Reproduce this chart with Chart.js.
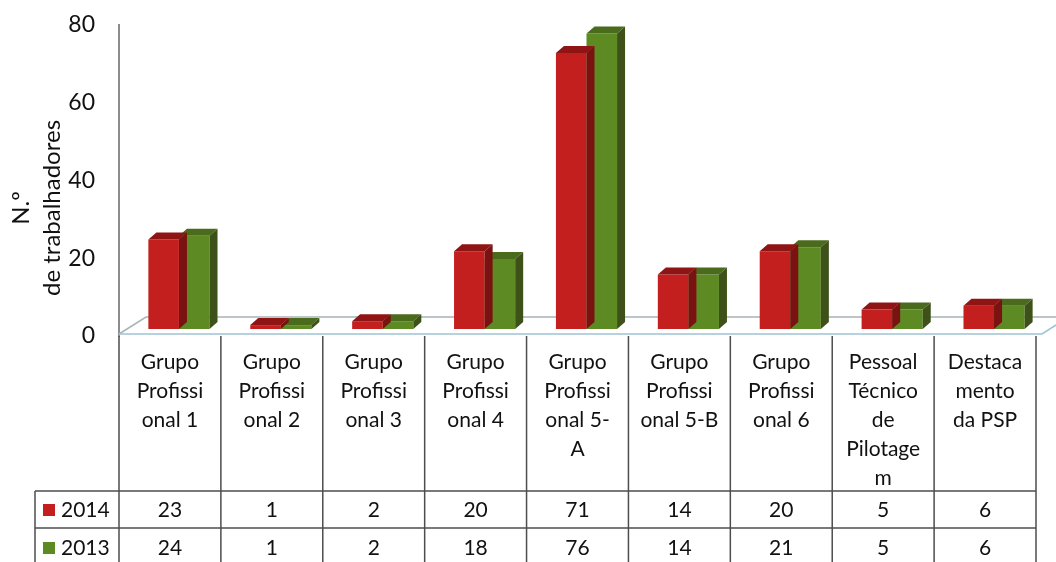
<!DOCTYPE html>
<html>
<head>
<meta charset="utf-8">
<script src="https://cdn.jsdelivr.net/npm/chart.js@4/dist/chart.umd.min.js"></script>
<style>
  html, body { margin: 0; padding: 0; background: #ffffff; }
  #wrap { width: 1056px; height: 562px; position: relative; }
</style>
</head>
<body>
<div id="wrap"><canvas id="c" width="1056" height="562"></canvas></div>
<script>
// ---- data ----
const categories = [
  ["Grupo", "Profissi", "onal 1"],
  ["Grupo", "Profissi", "onal 2"],
  ["Grupo", "Profissi", "onal 3"],
  ["Grupo", "Profissi", "onal 4"],
  ["Grupo", "Profissi", "onal 5-", "A"],
  ["Grupo", "Profissi", "onal 5-B"],
  ["Grupo", "Profissi", "onal 6"],
  ["Pessoal", "Técnico", "de", "Pilotage", "m"],
  ["Destaca", "mento", "da PSP"]
];
const seriesNames = ["2014", "2013"];
const values2014 = [23, 1, 2, 20, 71, 14, 20, 5, 6];
const values2013 = [24, 1, 2, 18, 76, 14, 21, 5, 6];
const yTicks = [0, 20, 40, 60, 80];
const yTitle = ["N.º", "de trabalhadores"];

// ---- styles ----
const FONT = "Lato, 'Noto Sans', sans-serif";
const TEXT = "#111111";
const faceColors = [
  { front: "#C21F1E", top: "#8F1414", side: "#7A1212" },
  { front: "#5E8A24", top: "#4B6B1C", side: "#3D5118" }
];
const DX = 8, DY = 7;        // depth of the 3D faces
const SHIFT_X = 9, SHIFT_Y = -7;

const bar3d = {
  id: "bar3d",
  beforeDatasetsDraw(chart) {
    const ctx = chart.ctx, a = chart.chartArea;
    // floor
    ctx.save();
    ctx.strokeStyle = "#a9b3b8";
    ctx.lineWidth = 1.5;
    ctx.beginPath();
    ctx.moveTo(a.left, a.bottom - 2);
    ctx.lineTo(a.left + 27, a.bottom - 19);
    ctx.lineTo(chart.width, a.bottom - 19);
    ctx.stroke();
    ctx.strokeStyle = "#9fc3d6";
    ctx.beginPath();
    ctx.moveTo(a.left, a.bottom - 2);
    ctx.lineTo(a.right + 6, a.bottom - 2);
    ctx.lineTo(a.right + 20, a.bottom - 11);
    ctx.stroke();
    ctx.restore();
    ctx.save();
    ctx.translate(SHIFT_X, SHIFT_Y);
  },
  afterDatasetDraw(chart, args) {
    const ctx = chart.ctx;
    const col = faceColors[args.index];
    args.meta.data.forEach(el => {
      const l = el.x - el.width / 2, r = el.x + el.width / 2, t = el.y, b = el.base;
      ctx.fillStyle = col.top;
      ctx.beginPath();
      ctx.moveTo(l, t); ctx.lineTo(r, t); ctx.lineTo(r + DX, t - DY); ctx.lineTo(l + DX, t - DY);
      ctx.closePath(); ctx.fill();
      ctx.fillStyle = col.side;
      ctx.beginPath();
      ctx.moveTo(r, t); ctx.lineTo(r + DX, t - DY); ctx.lineTo(r + DX, b - DY); ctx.lineTo(r, b);
      ctx.closePath(); ctx.fill();
    });
  },
  afterDatasetsDraw(chart) {
    chart.ctx.restore();
  }
};

const dataTable = {
  id: "dataTable",
  afterDraw(chart) {
    const ctx = chart.ctx, a = chart.chartArea, xs = chart.scales.x;
    const n = categories.length;
    const bounds = [a.left];
    for (let i = 1; i < n; i++) bounds.push((xs.getPixelForTick(i - 1) + xs.getPixelForTick(i)) / 2);
    bounds.push(a.right);
    const top = a.bottom, row1 = 491, row2 = 528, bottom = chart.height;
    const legLeft = 35;
    ctx.save();
    ctx.strokeStyle = "#4d4d4d";
    ctx.lineWidth = 1.5;
    ctx.beginPath();
    bounds.forEach(x => { ctx.moveTo(x, top); ctx.lineTo(x, bottom); });
    ctx.moveTo(legLeft, row1); ctx.lineTo(legLeft, bottom);
    ctx.moveTo(legLeft, row1); ctx.lineTo(a.right, row1);
    ctx.moveTo(legLeft, row2); ctx.lineTo(a.right, row2);
    ctx.stroke();

    ctx.fillStyle = TEXT;
    ctx.font = "21px " + FONT;
    ctx.textAlign = "center";
    ctx.textBaseline = "middle";
    categories.forEach((lines, i) => {
      const cx = xs.getPixelForTick(i);
      lines.forEach((s, k) => ctx.fillText(s, cx, 362 + k * 29));
      ctx.fillText(String(values2014[i]), cx, 510);
      ctx.fillText(String(values2013[i]), cx, 548);
    });
    // legend keys
    const rowsY = [510, 548];
    seriesNames.forEach((name, k) => {
      ctx.fillStyle = faceColors[k].front;
      ctx.fillRect(43, rowsY[k] - 6, 12, 12);
      ctx.fillStyle = TEXT;
      ctx.textAlign = "left";
      ctx.fillText(name, 61, rowsY[k]);
    });

    // y axis title
    ctx.save();
    ctx.font = "24px " + FONT;
    ctx.textAlign = "center";
    ctx.translate(0, 208);
    ctx.rotate(-Math.PI / 2);
    ctx.fillText(yTitle[0], 0, 21);
    ctx.fillText(yTitle[1], 0, 52);
    ctx.restore();
    ctx.restore();
  }
};

new Chart(document.getElementById("c"), {
  type: "bar",
  data: {
    labels: categories,
    datasets: [
      { label: seriesNames[0], data: values2014, backgroundColor: faceColors[0].front },
      { label: seriesNames[1], data: values2013, backgroundColor: faceColors[1].front }
    ]
  },
  options: {
    responsive: false,
    animation: false,
    events: [],
    layout: { padding: { top: 25, bottom: 226, right: 20, left: 0 } },
    categoryPercentage: 0.6,
    barPercentage: 1.0,
    plugins: { legend: { display: false }, tooltip: { enabled: false } },
    scales: {
      x: { display: false },
      y: {
        min: 0, max: 80,
        afterFit(s) { s.width = 119; },
        afterBuildTicks(s) { s.ticks = yTicks.map(v => ({ value: v })); },
        grid: { display: false, drawTicks: true, tickLength: 22, tickColor: "rgba(0,0,0,0)" },
        border: { display: true, color: "#8c8c8c", width: 2 },
        ticks: { padding: 2, color: TEXT, font: { family: FONT, size: 23 } }
      }
    }
  },
  plugins: [bar3d, dataTable]
});
</script>
</body>
</html>
